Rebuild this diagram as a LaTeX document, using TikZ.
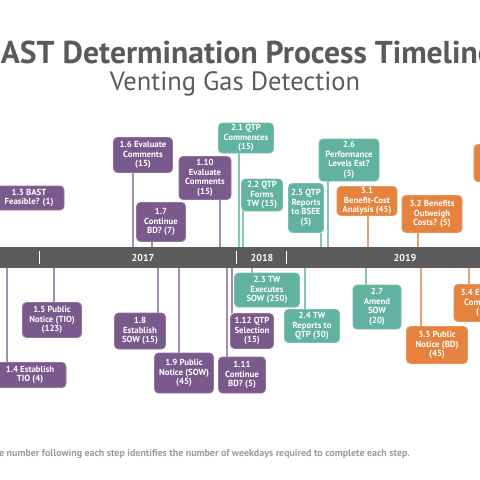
\documentclass[tikz,border=0pt]{standalone}
\usepackage{fontspec}
\setmainfont{PT Sans}
\definecolor{cpur}{HTML}{7A5A8C}
\definecolor{cteal}{HTML}{62B2A0}
\definecolor{corg}{HTML}{E4823E}
\definecolor{lpur}{HTML}{A48CB4}
\definecolor{lteal}{HTML}{86C8B8}
\definecolor{lorg}{HTML}{EDA06C}
\definecolor{barc}{HTML}{5C5C5C}
\definecolor{titc}{HTML}{5A5A5A}
\definecolor{footc}{HTML}{9C9C9C}
\tikzset{
  box/.style={rounded corners=4pt, inner sep=0pt, text=white, align=center,
    font=\bfseries\fontsize{8.8}{9.6}\selectfont},
  cp/.style={draw=lpur, line width=1.4pt},
  ct/.style={draw=lteal, line width=1.4pt},
  co/.style={draw=lorg, line width=1.4pt},
  tick/.style={draw=white, line width=0.9pt},
  year/.style={text=white, font=\bfseries\fontsize{10}{12}\selectfont}
}
\newcommand\bx[7]{\node[box,fill=#2,draw=#2!85!white,line width=0.8pt,minimum width=#5pt,minimum height=#6pt] (#1) at (#3,#4) {#7};}
\newcommand\cnA[3]{\draw[#1] ([xshift=#3pt]#2.south) coordinate (tmp) -- (tmp |- bar.north);}
\newcommand\cnB[3]{\draw[#1] ([xshift=#3pt]#2.north) coordinate (tmp) -- (tmp |- bar.south);}
\begin{document}
\begin{tikzpicture}[x=1pt,y=-1pt]
\useasboundingbox (0,0) rectangle (480,480);
\clip (0,0) rectangle (480,480);
\fill[white] (0,0) rectangle (480,480);
% titles
\node[anchor=base, text=titc, font=\bfseries\fontsize{31.6}{34}\selectfont, inner sep=0] (title) at (238,63) {BAST Determination Process Timeline};
\node[anchor=base, text=titc, font=\fontsize{26.5}{28}\selectfont, inner sep=0] (subtitle) at (235,90) {Venting Gas Detection};
% bar
\node[fill=barc, minimum width=520pt, minimum height=21pt, inner sep=0] (bar) at (240,257.5) {};
\draw[tick] (bar.north -| 39,0) ++(0,4) coordinate (k1) -- ++(0,13);
\draw[tick] (bar.north -| 236,0) ++(0,4) coordinate (k2) -- ++(0,13);
\draw[tick] (bar.north -| 286,0) ++(0,4) coordinate (k3) -- ++(0,13);
\node[year] (y17) at (143,257.5) {2017};
\node[year] (y18) at (262,257.5) {2018};
\node[year] (y19) at (405,257.5) {2019};
% boxes above
\bx{n13}{cpur}{29}{198}{70}{24}{1.3 BAST\\Feasible? (1)}
\bx{n16}{cpur}{143}{155}{59}{35}{1.6 Evaluate\\Comments\\(15)}
\bx{n17}{cpur}{161}{222}{49}{39}{1.7\\Continue\\BD? (7)}
\bx{n110}{cpur}{205}{178}{52}{43}{1.10\\Evaluate\\Comments\\(15)}
\bx{n21}{cteal}{246}{138}{55}{30}{2.1 QTP\\Commences\\(15)}
\bx{n22}{cteal}{262}{195}{41}{32}{2.2 QTP\\Forms\\TW (15)}
\bx{n25}{cteal}{306}{208}{35}{49}{2.5 QTP\\Reports\\to BSEE\\(5)}
\bx{n26}{cteal}{349}{160}{60}{42}{2.6\\Performance\\Levels Est?\\(5)}
\bx{n31}{corg}{367}{201}{60}{29}{3.1\\Benefit-Cost\\Analysis (45)}
\bx{n32}{corg}{432}{214}{60}{37}{3.2 Benefits\\Outweigh\\Costs? (5)}
\bx{n3x}{corg}{512}{163}{76}{37}{}
% boxes below
\bx{n14}{cpur}{30}{375}{72}{25}{1.4 Establish\\TIO (4)}
\bx{n15}{cpur}{52}{320}{59}{35}{1.5 Public\\Notice (TIO)\\(123)}
\bx{n18}{cpur}{140}{331}{51}{36}{1.8\\Establish\\SOW (15)}
\bx{n19}{cpur}{184}{373}{59}{40}{1.9 Public\\Notice (SOW)\\(45)}
\bx{n112}{cpur}{252}{331}{43}{35}{1.12 QTP\\Selection\\(15)}
\bx{n111}{cpur}{242}{375}{47}{36}{1.11\\Continue\\BD? (5)}
\bx{n23}{cteal}{267}{290}{65}{34}{2.3 TW\\Executes\\SOW (250)}
\bx{n24}{cteal}{312}{326}{55}{33}{2.4 TW\\Reports to\\QTP (30)}
\bx{n27}{cteal}{377}{307}{48}{44}{2.7\\Amend\\SOW\\(20)}
\bx{n33}{corg}{437}{345}{61}{37}{3.3 Public\\Notice (BD)\\(45)}
\bx{n34}{corg}{484}{303}{60}{37}{3.4 Evaluate\\Comments\\(15)}
% connectors above
\cnA{cp}{n16}{-10}
\cnA{cp}{n17}{-9}
\cnA{cp}{n110}{15}
\cnA{ct}{n21}{-7}
\cnA{ct}{n22}{-19}
\cnA{ct}{n25}{15}
\cnA{ct}{n26}{-21}
\cnA{co}{n31}{1}
\cnA{co}{n32}{-14}
% connectors below
\cnB{cp}{n14}{-23}
\cnB{cp}{n15}{2}
\cnB{cp}{n18}{18}
\cnB{cp}{n19}{-5}
\cnB{cp}{n112}{-20}
\cnB{cp}{n111}{-15}
\cnB{ct}{n23}{-15}
\cnB{ct}{n24}{-7}
\cnB{ct}{n27}{-11}
\cnB{co}{n33}{-16}
\cnB{co}{n34}{-15}
% footer
\node[anchor=base east, text=footc, font=\bfseries\fontsize{9.95}{11}\selectfont, inner sep=0] (foot) at (410,456) {The number following each step identifies the number of weekdays required to complete each step.};
\end{tikzpicture}
\end{document}
